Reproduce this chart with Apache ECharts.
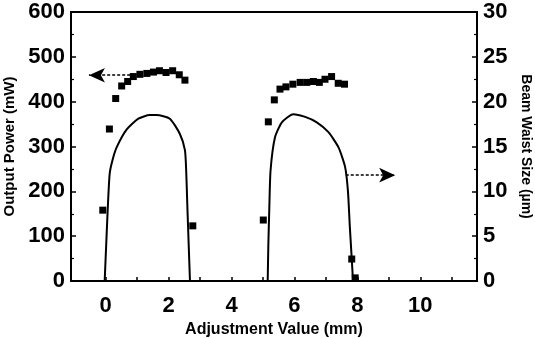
<!DOCTYPE html>
<html><head><meta charset="utf-8">
<script src="https://cdn.jsdelivr.net/npm/echarts@6/dist/echarts.min.js"></script>
<style>html,body{margin:0;padding:0;background:#fff}#c{width:535px;height:338px}</style>
</head><body><div id="c"></div>
<script>
// Output power (mW) vs adjustment value (mm) - squares, left axis
const powerX = [-0.09, 0.12, 0.32, 0.51, 0.70, 0.88, 1.09, 1.31, 1.52, 1.71, 1.92, 2.13, 2.34, 2.52, 2.77,
                5.01, 5.17, 5.36, 5.54, 5.73, 5.95, 6.18, 6.39, 6.60, 6.79, 6.97, 7.18, 7.39, 7.59, 7.82, 7.93];
const powerY = [158, 339, 407, 435, 445, 456, 461, 463, 466, 469, 465, 469, 460, 448, 123,
                136, 355, 404, 428, 433, 439, 443, 443, 445, 443, 450, 456, 441, 439, 49, 7];
// Beam waist size (um) curves - right axis
const waist1X = [-0.03, 0.03, 0.08, 0.13, 0.22, 0.35, 0.67, 1.04, 1.40, 1.62, 2.04, 2.36, 2.52, 2.56, 2.60, 2.64, 2.68];
const waist1Y = [0, 5, 9, 12, 13.5, 14.9, 16.9, 18.1, 18.5, 18.5, 18.1, 16.4, 14.6, 12.3, 8, 4, 0];
const waist2X = [5.15, 5.17, 5.20, 5.24, 5.38, 5.60, 5.96, 6.34, 6.71, 7.08, 7.40, 7.61, 7.70, 7.76, 7.82, 7.86];
const waist2Y = [0, 4, 8, 12.3, 16, 17.7, 18.6, 18.3, 17.7, 16.6, 14.9, 12.7, 10, 6, 2.5, 0];
// Tick values
const xLabelValues = [0, 2, 4, 6, 8, 10];
const xTickValues = [0, 1, 2, 3, 4, 5, 6, 7, 8, 9, 10, 11];
// Annotation arrows [fromX, fromY] -> [toX, toY]
const arrowPower = [[0.78, 459], [-0.53, 459]];
const arrowWaist = [[7.63, 11.8], [9.2, 11.8]];

const zip = (a, b) => a.map((v, i) => [v, b[i]]);
const tickFont = { fontFamily: '"Liberation Sans",Arial,sans-serif', fontWeight: 'bold', fontSize: 22, color: '#000' };
const nameFont = { fontFamily: '"Liberation Sans",Arial,sans-serif', fontWeight: 'bold', color: '#000' };
const chart = echarts.init(document.getElementById('c'), null, { renderer: 'canvas' });
chart.setOption({
  animation: false,
  backgroundColor: '#fff',
  grid: { left: 71, right: 58, top: 12, bottom: 57, containLabel: false, outerBoundsMode: 'none',
          show: true, borderColor: '#000', borderWidth: 2, backgroundColor: 'transparent' },
  xAxis: {
    type: 'value', min: -1.1, max: 11.8,
    name: 'Adjustment Value (mm)', nameLocation: 'middle', nameGap: 39,
    nameTextStyle: Object.assign({ fontSize: 16 }, nameFont),
    axisLine: { onZero: false, lineStyle: { color: '#000', width: 2 } },
    axisTick: { inside: true, length: 4, lineStyle: { color: '#000', width: 1.5 }, customValues: xTickValues },
    axisLabel: Object.assign({ margin: 14, customValues: xLabelValues }, tickFont),
    splitLine: { show: false }
  },
  yAxis: [{
    type: 'value', min: 0, max: 600, interval: 100, position: 'left',
    name: 'Output Power (mW)', nameLocation: 'middle', nameGap: 47,
    nameTextStyle: Object.assign({ fontSize: 15 }, nameFont),
    axisLine: { show: true, onZero: false, lineStyle: { color: '#000', width: 2 } },
    axisTick: { show: true, inside: true, length: 5, lineStyle: { color: '#000', width: 1.5 } },
    minorTick: { show: true, splitNumber: 2, length: 3, lineStyle: { color: '#000', width: 1.2 } },
    axisLabel: Object.assign({ margin: 6 }, tickFont),
    splitLine: { show: false }
  }, {
    type: 'value', min: 0, max: 30, interval: 5, position: 'right',
    name: 'Beam Waist Size (\u00b5m)', nameLocation: 'middle', nameGap: 41, nameRotate: -90,
    nameTextStyle: Object.assign({ fontSize: 14 }, nameFont),
    axisLine: { show: true, onZero: false, lineStyle: { color: '#000', width: 2 } },
    axisTick: { show: true, inside: true, length: 5, lineStyle: { color: '#000', width: 1.5 } },
    minorTick: { show: true, splitNumber: 2, length: 3, lineStyle: { color: '#000', width: 1.2 } },
    axisLabel: Object.assign({ margin: 6 }, tickFont),
    splitLine: { show: false }
  }],
  series: [{
    type: 'scatter', yAxisIndex: 0, data: zip(powerX, powerY),
    symbol: 'rect', symbolSize: 7, itemStyle: { color: '#000', opacity: 1 },
    markLine: {
      silent: true, symbol: ['none', 'arrow'], symbolSize: [11, 16],
      lineStyle: { color: '#000', type: [3, 2], width: 1.5 }, label: { show: false },
      data: [[{ coord: arrowPower[0] }, { coord: arrowPower[1] }]]
    }
  }, {
    type: 'line', yAxisIndex: 1, data: zip(waist1X, waist1Y), smooth: 0.2,
    showSymbol: false, lineStyle: { color: '#000', width: 2 }
  }, {
    type: 'line', yAxisIndex: 1, data: zip(waist2X, waist2Y), smooth: 0.2,
    showSymbol: false, lineStyle: { color: '#000', width: 2 },
    markLine: {
      silent: true, symbol: ['none', 'arrow'], symbolSize: [11, 16],
      lineStyle: { color: '#000', type: [3, 2], width: 1.5 }, label: { show: false },
      data: [[{ coord: arrowWaist[0] }, { coord: arrowWaist[1] }]]
    }
  }]
});
</script></body></html>
